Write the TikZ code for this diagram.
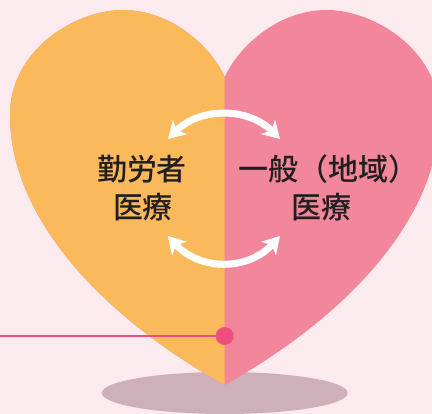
\documentclass[tikz,border=0pt]{standalone}
\usepackage{fontspec}
\newfontfamily\jp{Noto Sans CJK JP Medium}
\usetikzlibrary{arrows.meta}
\definecolor{bgc}{HTML}{FCEBEE}
\definecolor{orangec}{HTML}{FAB95B}
\definecolor{pinkc}{HTML}{F2869B}
\definecolor{shadowc}{HTML}{CDB0B9}
\definecolor{dotc}{HTML}{EE4E7E}
\definecolor{txtc}{HTML}{231F20}
\tikzset{
  label text/.style={text=txtc, font=\jp\fontsize{30}{36}\selectfont, inner sep=0pt},
  swaparrow/.style={draw=white, line width=7pt, {Stealth[length=17pt,width=20pt,inset=5pt]}-{Stealth[length=17pt,width=20pt,inset=5pt]}},
}
\begin{document}
\begin{tikzpicture}[x=1pt,y=-1pt]
\useasboundingbox (0,0) rectangle (432,414);
\fill[bgc] (0,0) rectangle (432,414);
\clip (0,0) rectangle (432,414);
% shadow
\fill[shadowc] (224.7,393) ellipse [x radius=123pt, y radius=21pt];
% heart (whole, pink)
\fill[pinkc] (224.7,77) .. controls (210,45) and (170,10) .. (123,10)
  .. controls (75,10) and (10,50) .. (10,115)
  .. controls (10,220) and (105,318) .. (224.7,385)
  .. controls (344.4,318) and (439.4,220) .. (439.4,115)
  .. controls (439.4,50) and (374.4,10) .. (326.4,10)
  .. controls (279.4,10) and (239.4,45) .. (224.7,77) -- cycle;
% left half (orange)
\fill[orangec] (224.7,77) .. controls (210,45) and (170,10) .. (123,10)
  .. controls (75,10) and (10,50) .. (10,115)
  .. controls (10,220) and (105,318) .. (224.7,385) -- cycle;
% labels
\node[label text, anchor=base] (l1) at (142,181) {勤労者};
\node[label text, anchor=base] (l2) at (143,218.6) {医療};
\node[label text, anchor=base west] (r1) at (238.5,181) {一般（地域）};
\node[label text, anchor=base] (r2) at (321,218.6) {医療};
% arrows
\coordinate (ta) at (168,139);
\coordinate (tb) at (280,139);
\coordinate (ba) at (168,236);
\coordinate (bb) at (280,236);
\draw[swaparrow] (ta) .. controls (200,107) and (248,107) .. (tb);
\draw[swaparrow] (ba) .. controls (200,271) and (248,271) .. (bb);
% pointer line and dot
\coordinate (lineend) at (0,336);
\node[circle, fill=dotc, minimum size=18pt, inner sep=0pt] (dot) at (224.7,336) {};
\draw[dotc, line width=1.2pt] (lineend) -- (dot);
\end{tikzpicture}
\end{document}
